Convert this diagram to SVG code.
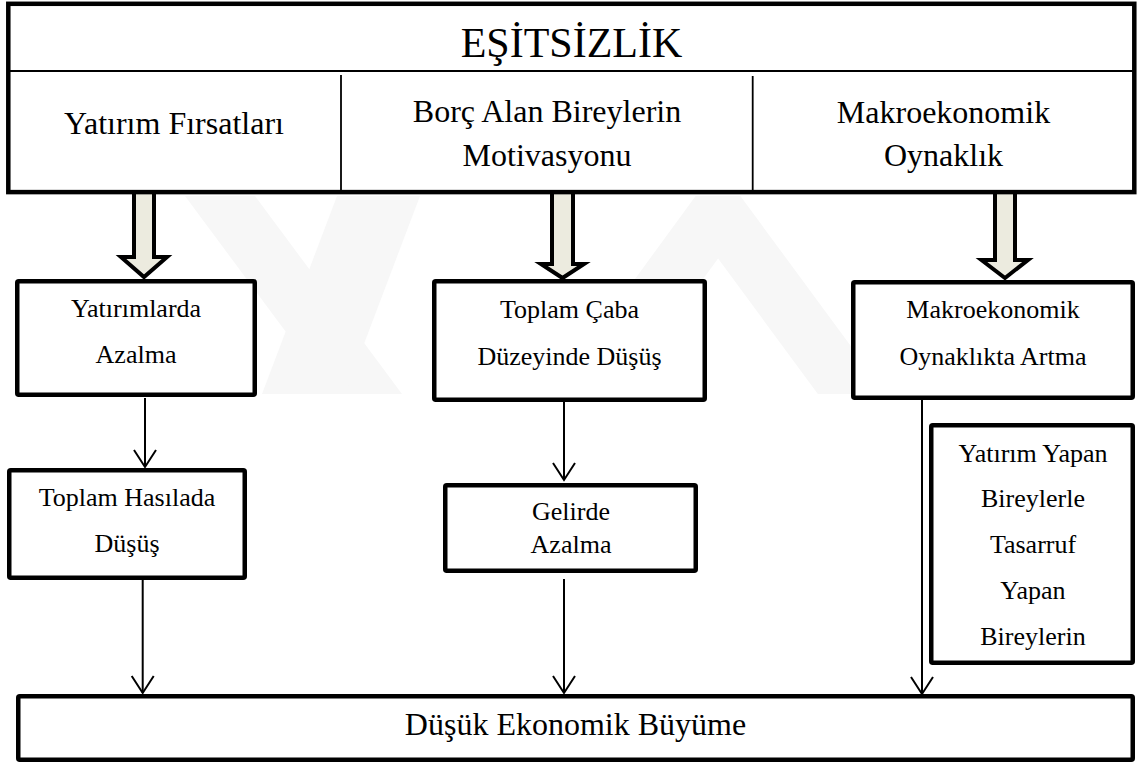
<svg xmlns="http://www.w3.org/2000/svg" width="1142" height="764" viewBox="0 0 1142 764">
  <style>
    .box { fill: #ffffff; stroke: #000000; stroke-width: 4.5; }
    .thin { stroke: #000000; stroke-width: 2; fill: none; }
    .big { fill: #ecebdf; stroke: #000000; stroke-width: 4; stroke-linejoin: miter; }
    .conn { stroke: #000000; stroke-width: 2; fill: none; marker-end: url(#open); }
    .t { font-family: "Liberation Serif", "Times New Roman", serif; fill: #000000; text-anchor: middle; }
    .t42 { font-size: 42px; }
    .t32 { font-size: 32px; }
    .t26 { font-size: 26px; }
    .wm { fill: #f7f7f7; }
  </style>
  <defs>
    <marker id="open" viewBox="-19 -13 21 26" refX="0" refY="0" markerWidth="21" markerHeight="26" markerUnits="userSpaceOnUse" orient="auto">
      <path d="M-17,-11 L0,0 L-17,11" fill="none" stroke="#000000" stroke-width="2"/>
    </marker>
    <clipPath id="wmclip"><rect x="0" y="196" width="1142" height="198"/></clipPath>
  </defs>
  <rect x="0" y="0" width="1142" height="764" fill="#ffffff"/>

  <g id="watermark" clip-path="url(#wmclip)">
    <polygon class="wm" points="185,196 255,196 402,394 332,394"/>
    <polygon class="wm" points="337,196 420,196 345,394 262,394"/>
    <polyline points="585,394 718,212 852,394" fill="none" stroke="#f7f7f7" stroke-width="55" stroke-linejoin="miter"/>
  </g>

  <g id="block-arrows">
    <path class="big" d="M134,190 V257 H121 L144,277 L167,257 H154 V190 Z"/>
    <path class="big" d="M552,190 V264 H541 L562.5,278 L584,264 H573 V190 Z"/>
    <path class="big" d="M995,190 V260 H981.5 L1005,278 L1028,260 H1015 V190 Z"/>
  </g>

  <g id="top-node">
    <rect class="box" x="8.3" y="3.8" width="1126" height="188.3"/>
    <line class="thin" x1="8" y1="71" x2="1134" y2="71"/>
    <line x1="341" y1="75" x2="341" y2="190" stroke="#000000" stroke-width="1.8"/>
    <line x1="752.7" y1="76" x2="752.7" y2="190" stroke="#000000" stroke-width="1.8"/>
    <text class="t t42" x="571.5" y="57">EŞİTSİZLİK</text>
    <text class="t t32" x="174" y="134">Yatırım Fırsatları</text>
    <text class="t t32" x="547" y="122">Borç Alan Bireylerin</text>
    <text class="t t32" x="547" y="166">Motivasyonu</text>
    <text class="t t32" x="943.5" y="123">Makroekonomik</text>
    <text class="t t32" x="943.5" y="166">Oynaklık</text>
  </g>

  <g id="connectors">
    <line class="conn" x1="145" y1="398" x2="145" y2="467"/>
    <line class="conn" x1="142.7" y1="580" x2="142.7" y2="693"/>
    <line class="conn" x1="564" y1="402" x2="564" y2="480"/>
    <line class="conn" x1="564" y1="579" x2="564" y2="693"/>
    <line class="conn" x1="922" y1="400" x2="922" y2="694"/>
  </g>

  <g id="node-yatirimlarda-azalma">
    <rect class="box" x="17.25" y="281.25" width="237.5" height="113.5" rx="1.5"/>
    <text class="t t26" x="136" y="317">Yatırımlarda</text>
    <text class="t t26" x="136" y="363">Azalma</text>
  </g>

  <g id="node-toplam-caba">
    <rect class="box" x="434.25" y="281.25" width="270.5" height="118.5" rx="1.5"/>
    <text class="t t26" x="569.5" y="318">Toplam Çaba</text>
    <text class="t t26" x="569.5" y="365">Düzeyinde Düşüş</text>
  </g>

  <g id="node-makro-artma">
    <rect class="box" x="853.25" y="282.25" width="279.5" height="115.5" rx="1.5"/>
    <text class="t t26" x="993" y="318">Makroekonomik</text>
    <text class="t t26" x="993" y="365">Oynaklıkta Artma</text>
  </g>

  <g id="node-toplam-hasila">
    <rect class="box" x="9.25" y="470.25" width="235.5" height="107.5" rx="1.5"/>
    <text class="t t26" x="127" y="506">Toplam Hasılada</text>
    <text class="t t26" x="127" y="552">Düşüş</text>
  </g>

  <g id="node-gelirde-azalma">
    <rect class="box" x="445.25" y="485.25" width="250.5" height="85.5" rx="1.5"/>
    <text class="t t26" x="571" y="520">Gelirde</text>
    <text class="t t26" x="571" y="553">Azalma</text>
  </g>

  <g id="node-yatirim-yapan">
    <rect class="box" x="931.25" y="425.25" width="201.5" height="237.5" rx="1.5"/>
    <text class="t t26" x="1033" y="462">Yatırım Yapan</text>
    <text class="t t26" x="1033" y="507">Bireylerle</text>
    <text class="t t26" x="1033" y="553">Tasarruf</text>
    <text class="t t26" x="1033" y="599">Yapan</text>
    <text class="t t26" x="1033" y="645">Bireylerin</text>
  </g>

  <g id="node-dusuk-buyume">
    <rect class="box" x="18.25" y="696.25" width="1114.5" height="63.5" rx="1.5"/>
    <text class="t t32" x="575.5" y="735">Düşük Ekonomik Büyüme</text>
  </g>
</svg>
